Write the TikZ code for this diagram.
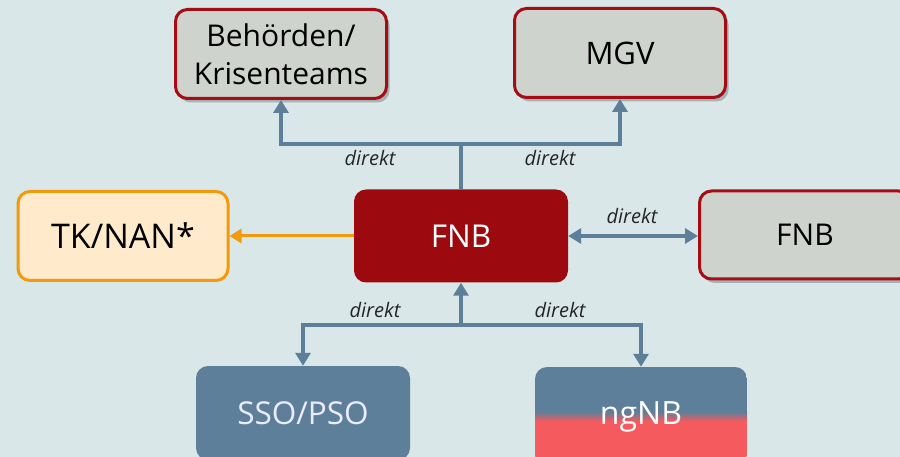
\documentclass[tikz,border=0pt]{standalone}
\usepackage{fontspec}
\setmainfont{Open Sans}
\usetikzlibrary{arrows.meta,shadows,calc}
\definecolor{bg}{HTML}{D9E7E9}
\definecolor{grayfill}{HTML}{CFD3CE}
\definecolor{redline}{HTML}{A50D14}
\definecolor{fnbred}{HTML}{9C0A0F}
\definecolor{orangeline}{HTML}{F29A0E}
\definecolor{orangefill}{HTML}{FFEACB}
\definecolor{bluegray}{HTML}{5E7F9A}
\definecolor{ngred}{HTML}{F55A5E}
\tikzset{
  graybox/.style={draw=redline, line width=3pt, fill=grayfill, rounded corners=12pt,
    minimum width=211pt, minimum height=89pt, inner sep=0pt, align=center, text=black,
    drop shadow={shadow xshift=3pt, shadow yshift=-4pt, opacity=0.35, fill=black!70}},
  fillbox/.style={rounded corners=12pt, inner sep=0pt, align=center},
  conn/.style={draw=bluegray, line width=4pt},
  tip/.style={-{Triangle[length=13pt,width=15pt]}},
  lbl/.style={font=\fontsize{20}{22}\selectfont\itshape, text=black!85},
}
\begin{document}
\begin{tikzpicture}[x=1pt,y=-1pt]
\fill[bg] (0,0) rectangle (900,457);
\useasboundingbox (0,0) rectangle (900,457);
\clip (0,0) rectangle (900,457);

% nodes
\node[graybox, font=\fontsize{30}{38}\selectfont] (beh) at (281,54) {Behörden/\\Krisenteams};
\node[graybox, font=\fontsize{31}{34}\selectfont] (mgv) at (620,53) {MGV};
\node[draw=orangeline, line width=3pt, fill=orangefill, rounded corners=12pt,
      minimum width=210pt, minimum height=89pt, inner sep=0pt,
      font=\fontsize{34}{40}\selectfont] (tk) at (123,236) {TK/NAN*};
\node[fillbox, fill=fnbred, text=white, minimum width=214pt, minimum height=93pt,
      font=\fontsize{31.5}{40}\selectfont] (fnb) at (461,236) {FNB};
\node[graybox, minimum width=211pt, minimum height=88pt,
      font=\fontsize{30}{35}\selectfont] (fnbr) at (805,235) {FNB};
\node[fillbox, fill=bluegray, text=white!92!blue, minimum width=214pt, minimum height=94pt,
      font=\fontsize{31.5}{39}\selectfont] (sso) at (303,413) {SSO/PSO};
\node[fillbox, minimum width=212pt, minimum height=100pt, text=white,
      font=\fontsize{32}{37}\selectfont,
      path picture={
        \fill[bluegray, sharp corners] (path picture bounding box.north west) rectangle (path picture bounding box.east);
        \fill[ngred, sharp corners] (path picture bounding box.west) rectangle (path picture bounding box.south east);
        \shade[top color=bluegray, bottom color=ngred, sharp corners]
          ($(path picture bounding box.west)+(0,-5)$) rectangle ($(path picture bounding box.east)+(0,4)$);
      }] (ng) at (641,417) {ngNB};

% junctions
\coordinate (jt) at (461,144);
\coordinate (jb) at (461,325);

% top connectors
\draw[conn] (fnb.north) -- (jt);
\draw[conn, tip] (jt) -| (beh.south);
\draw[conn, tip] (jt) -| (mgv.south);
\node[lbl] (l1) at (370,158) {direkt};
\node[lbl] (l2) at (550,158) {direkt};

% right connector
\draw[conn, {Triangle[length=13pt,width=15pt]}-{Triangle[length=13pt,width=15pt]}]
  (fnb.east) -- (fnb.east -| fnbr.west);
\node[lbl] (l3) at (632,216) {direkt};

% left connector
\draw[draw=orangeline, line width=3pt, -{Triangle[length=12pt,width=14pt]}] (fnb.west) -- (tk.east);

% bottom connectors
\draw[conn, tip] (jb) -- (fnb.south);
\draw[conn, tip] (jb) -| (sso.north);
\draw[conn, tip] (jb) -| (ng.north);
\node[lbl] (l4) at (375,310) {direkt};
\node[lbl] (l5) at (560,310) {direkt};
\end{tikzpicture}
\end{document}
